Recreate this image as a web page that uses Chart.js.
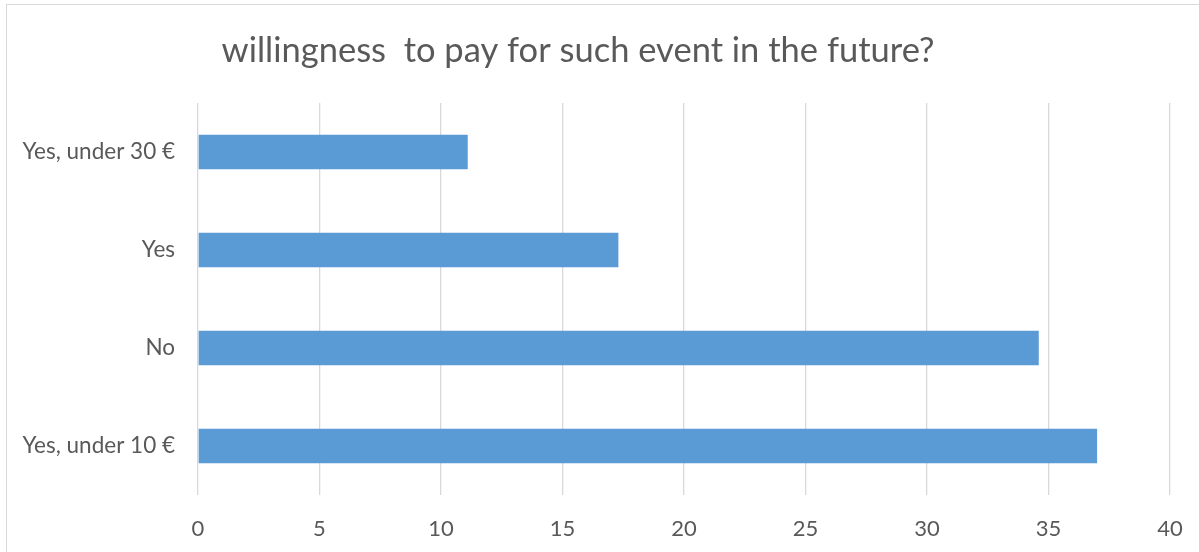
<!DOCTYPE html>
<html>
<head>
<meta charset="utf-8">
<script src="https://cdn.jsdelivr.net/npm/chart.js@4.4.1/dist/chart.umd.min.js"></script>
<style>
    html, body { margin: 0; padding: 0; background: #fff; overflow: hidden; }
    #frame { position: absolute; left: 6px; top: 4px; width: 1400px; height: 800px; border: 1.5px solid #d9d9d9; }
    #wrap { position: absolute; left: 0; top: 0; width: 1199px; height: 552px; }
</style>
</head>
<body>
<div id="frame"></div>
<div id="wrap"><canvas id="chart"></canvas></div>
<script>
// answers, top to bottom, and their share of responses (%)
const categories = ['Yes, under 30 €', 'Yes', 'No', 'Yes, under 10 €'];
const shares = [11.1, 17.3, 34.6, 37.0];
const axisMin = 0;
const axisMax = 40;
const axisStep = 5;
const chartTitle = 'willingness  to pay for such event in the future?';

const FONT = 'Lato, "Open Sans", sans-serif';
const TEXT = '#595959';
const GRID = '#d9d9d9';

// title sits a little left of centre, so draw it ourselves
const titlePlugin = {
    id: 'offsetTitle',
    afterDraw(chart) {
        const ctx = chart.ctx;
        ctx.save();
        ctx.font = '34.5px ' + FONT;
        ctx.fillStyle = TEXT;
        ctx.textAlign = 'center';
        ctx.textBaseline = 'alphabetic';
        ctx.fillText(chartTitle, 578, 62);
        ctx.restore();
    }
};

const ctx = document.getElementById('chart').getContext('2d');
new Chart(ctx, {
    type: 'bar',
    data: {
        labels: categories,
        datasets: [{
            data: shares,
            backgroundColor: '#5b9bd5',
            borderWidth: 0,
            barPercentage: 0.35,
            categoryPercentage: 1
        }]
    },
    options: {
        indexAxis: 'y',
        responsive: true,
        maintainAspectRatio: false,
        animation: false,
        layout: { padding: { top: 103, right: 29, bottom: 0, left: 0 } },
        plugins: {
            legend: { display: false },
            tooltip: { enabled: false },
            title: { display: false }
        },
        scales: {
            x: {
                min: axisMin,
                max: axisMax,
                ticks: { stepSize: axisStep, color: TEXT, font: { family: FONT, size: 22 }, padding: 21 },
                grid: { color: GRID, lineWidth: 1.3, drawTicks: false },
                border: { display: false },
                afterFit: scale => {
                    scale.height = 57;
                    // end labels fit inside the outer padding already
                    scale.paddingLeft = 0;
                    scale.paddingRight = 0;
                }
            },
            y: {
                ticks: { color: TEXT, font: { family: FONT, size: 22.5 }, padding: 15 },
                grid: { display: false },
                border: { display: false },
                afterFit: scale => { scale.width = 198; }
            }
        }
    },
    plugins: [titlePlugin]
});
</script>
</body>
</html>
